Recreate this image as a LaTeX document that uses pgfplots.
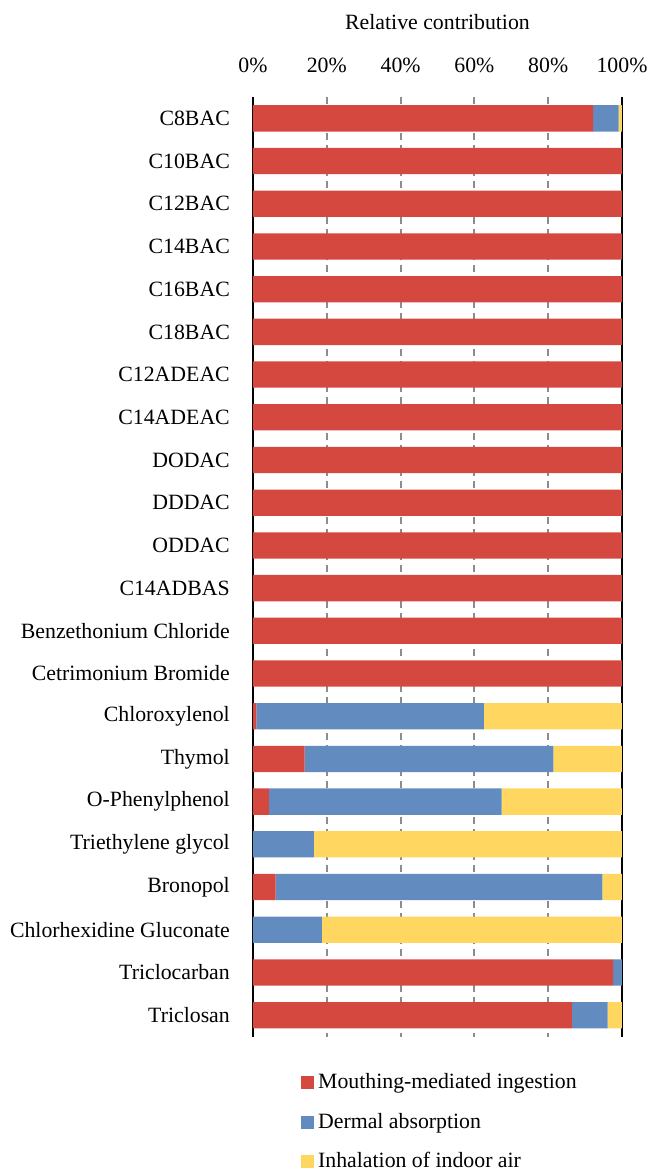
\documentclass[border=0pt]{standalone}
\usepackage{fontspec}
\setmainfont{Liberation Serif}
\usepackage{pgfplots}
\usepackage{pgfplotstable}
\pgfplotsset{compat=1.18}
\definecolor{cRed}{RGB}{213,72,63}
\definecolor{cBlue}{RGB}{98,140,192}
\definecolor{cYellow}{RGB}{255,215,96}
\pgfplotstableread{
idx ing derm inh
0 92.2 6.9 0.9
1 100 0 0
2 100 0 0
3 100 0 0
4 100 0 0
5 100 0 0
6 100 0 0
7 100 0 0
8 100 0 0
9 100 0 0
10 100 0 0
11 100 0 0
12 100 0 0
13 100 0 0
14 0.9 61.7 37.4
15 14.0 67.4 18.6
16 4.3 63.1 32.6
17 0 16.5 83.5
18 6.1 88.6 5.3
19 0 18.7 81.3
20 97.6 2.4 0
21 86.4 9.7 3.9
}\datatable
\begin{document}
\fontsize{21.8pt}{26pt}\selectfont
\begin{tikzpicture}
\begin{axis}[
  name=ax,
  scale only axis,
  width=369pt, height=939.5pt,
  xbar stacked,
  bar width=26.3pt,
  xmin=0, xmax=100,
  ymin=-0.5, ymax=21.5,
  y dir=reverse,
  enlargelimits=false,
  clip=false,
  axis line style={draw=none},
  major tick length=0pt,
  tick style={draw=none},
  xticklabel pos=top,
  xtick={0,20,40,60,80,100},
  xticklabels={0\%,20\%,40\%,60\%,80\%,100\%},
  xticklabel style={anchor=center, yshift=32pt},
  xmajorgrids,
  grid style={black!45, line width=1.9pt, dash pattern=on 7pt off 5pt},
  ytick={0,...,21},
  yticklabels={C8BAC,C10BAC,C12BAC,C14BAC,C16BAC,C18BAC,C12ADEAC,C14ADEAC,DODAC,DDDAC,ODDAC,C14ADBAS,Benzethonium Chloride,Cetrimonium Bromide,Chloroxylenol,Thymol,O-Phenylphenol,Triethylene glycol,Bronopol,Chlorhexidine Gluconate,Triclocarban,Triclosan},
  yticklabel style={anchor=east, inner sep=0pt, xshift=-23pt},
  legend image code/.code={\fill[#1] (0pt,-6.5pt) rectangle (13pt,6.5pt);},
  legend style={at={(0.13,0)}, anchor=north west, yshift=-35pt, draw=none, fill=none,
    inner sep=0pt, row sep=17pt, cells={anchor=west},
    font=\fontsize{21.8pt}{26pt}\selectfont,
    nodes={inner xsep=4pt}},
  legend cell align=left,
]
\addplot[fill=cRed, draw=none] table[x=ing, y=idx] {\datatable};
\addlegendentry{Mouthing-mediated ingestion}
\addplot[fill=cBlue, draw=none] table[x=derm, y=idx] {\datatable};
\addlegendentry{Dermal absorption}
\addplot[fill=cYellow, draw=none] table[x=inh, y=idx] {\datatable};
\addlegendentry{Inhalation of indoor air}
\draw[black, line width=2.6pt] (rel axis cs:0,0) -- (rel axis cs:0,1);
\draw[black, line width=2.6pt] (rel axis cs:1,0) -- (rel axis cs:1,1);
\node at (rel axis cs:0.5,1) [yshift=75pt] {Relative contribution};
\end{axis}
\pgfresetboundingbox
\path[shift={(ax.south west)}] (-253pt,-134.5pt) rectangle (396pt,1036.5pt);
\end{tikzpicture}
\end{document}
